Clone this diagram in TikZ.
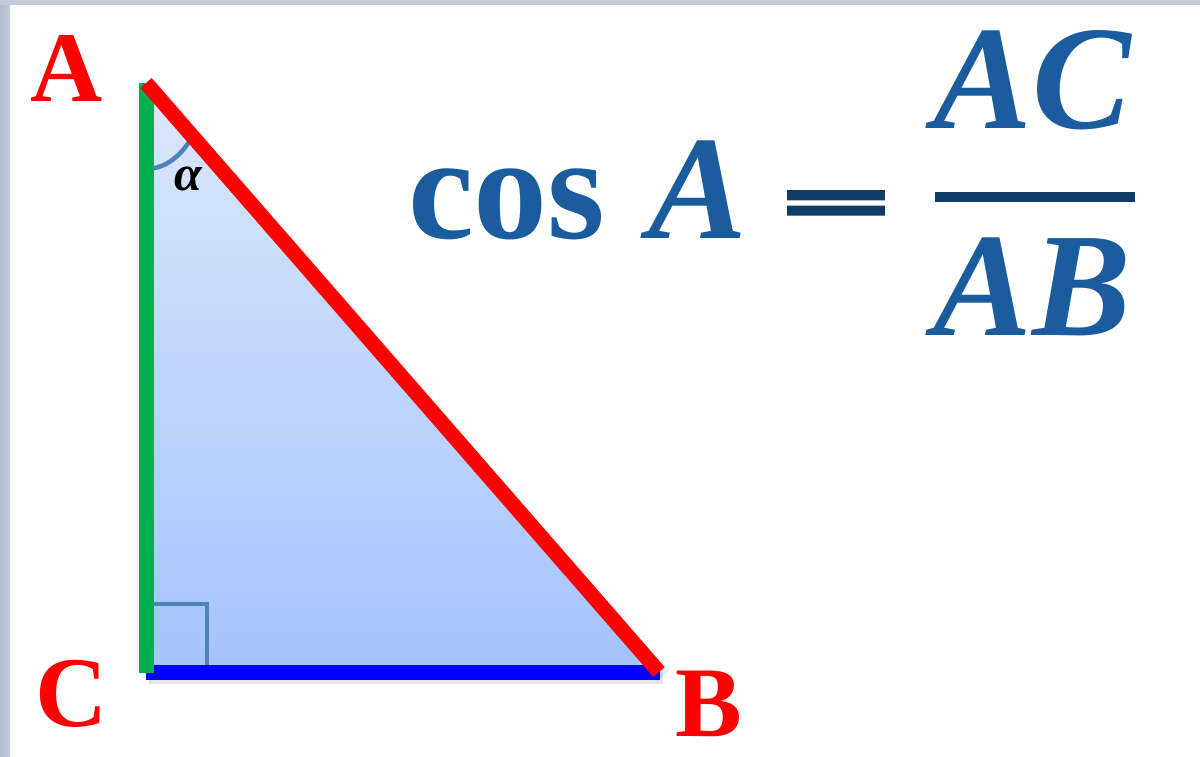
\documentclass[tikz,border=0pt]{standalone}
\usepackage{fontspec}
\usepackage{graphicx}
\usetikzlibrary{calc}
\setmainfont{Liberation Serif}
\newfontfamily\eqsans[FakeBold=7]{Liberation Sans}
\definecolor{framegrey}{HTML}{C3CBDA}
\definecolor{framedark}{HTML}{B2BCCE}
\definecolor{tritop}{HTML}{DCE7FB}
\definecolor{tribot}{HTML}{A4C3FC}
\definecolor{legred}{HTML}{FF0000}
\definecolor{leggreen}{HTML}{00B050}
\definecolor{legblue}{HTML}{0000FF}
\definecolor{steel}{HTML}{4F81BD}
\definecolor{formblue}{HTML}{1A5C9E}
\definecolor{formdark}{HTML}{0F3C66}
\tikzset{
  side/.style={line width=15pt},
  vlabel/.style={inner sep=0pt, text=legred, font=\fontsize{100}{100}\selectfont\bfseries},
  formula/.style={inner sep=0pt, text=formblue, font=\fontsize{148}{148}\selectfont\bfseries},
  mark90/.style={draw=steel, line width=4pt},
}
\begin{document}
\begin{tikzpicture}[x=1pt,y=-1pt]
\useasboundingbox (0,0) rectangle (1200,756);
\fill[white] (0,0) rectangle (1200,756);
\shade[left color=framedark, right color=framegrey] (0,0) rectangle (10,756);
\fill[framegrey] (0,0) rectangle (1200,5);

\coordinate (A) at (146,83);
\coordinate (C) at (146,672);
\coordinate (B) at (659,672);

% triangle
\shade[top color=tritop, bottom color=tribot] (A) -- (B) -- (C) -- cycle;

% right angle mark
\draw[mark90] (153,604) -- (207,604) -- (207,666);

% angle arc
\draw[steel, line width=4.5pt] (146,169) arc[start angle=90, end angle=43, x radius=59, y radius=86];
\node[inner sep=0pt, font=\fontsize{50}{50}\selectfont\bfseries\itshape] (alpha) at (188,179) {α};

% soft shadows
\draw[side, black, opacity=0.10] ($(C)+(3,4)$) -- ($(B)+(4,4)$);
\draw[side, black, opacity=0.08] ($(A)+(4,3)$) -- ($(B)+(4,4)$);

% sides
\draw[side, legblue] (C) -- (660,672);
\draw[side, leggreen] (A) -- (146,673);
\draw[side, legred] (A) -- (B);

% vertex labels
\node[vlabel] (lA) at (67,68) {A};
\node[vlabel] (lC) at (72,694) {C};
\node[vlabel] (lB) at (709,704) {B};

% formula
\node[formula, anchor=base west] (cos) at (408,238) {cos};
\node[formula, anchor=base] (fA) at (698,238) {\itshape A};
\node[inner sep=0pt, text=formdark, font=\fontsize{150}{150}\selectfont\eqsans\bfseries] (eq) at (836,207) {\scalebox{1.14}[0.38]{=}};
\node[formula, anchor=base] (num) at (1032,128) {\itshape AC};
\node[formula, anchor=base] (den) at (1032,335) {\itshape AB};
\coordinate (barL) at (935,197);
\coordinate (barR) at (1135,197);
\draw[formdark, line width=10pt] (barL) -- (barR);
\end{tikzpicture}
\end{document}
